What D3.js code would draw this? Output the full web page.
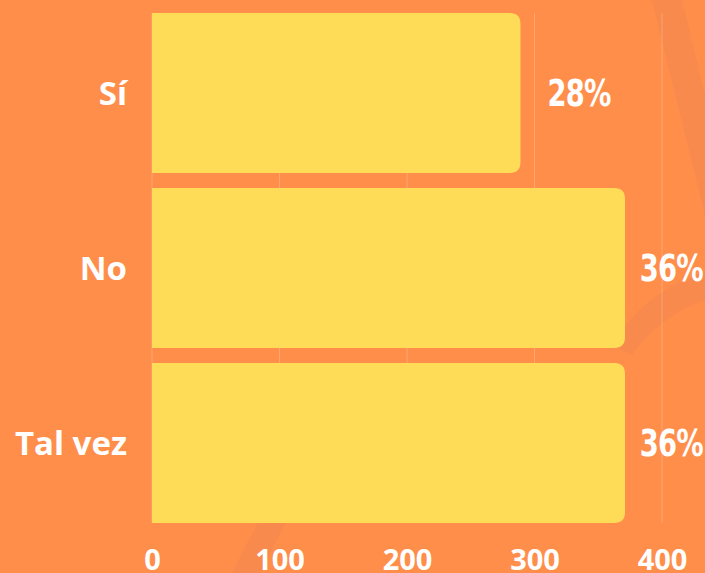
<!DOCTYPE html>
<html>
<head>
<meta charset="utf-8">
<script src="https://cdn.jsdelivr.net/npm/d3@7"></script>
<style>
  html, body { margin: 0; padding: 0; background: #ff8e4b; overflow: hidden; }
  svg { display: block; }
  .cat { font-family: 'Open Sans', sans-serif; font-weight: 700; font-size: 33px; fill: #fff; }
  .tick text { font-family: 'Open Sans', sans-serif; font-weight: 700; font-size: 29px; fill: #fff; }
  .pct { font-family: 'DejaVu Sans', sans-serif; font-weight: 700; font-size: 37px; fill: #fff; letter-spacing: -1px; }
</style>
</head>
<body>
<svg id="chart"></svg>
<script>
const categories = ['Sí', 'No', 'Tal vez']
const values = [289, 371, 371]
const percentLabels = ['28%', '36%', '36%']
const xTicks = [0, 100, 200, 300, 400]

const W = 705
const H = 573
const BG = '#ff8e4b'
const BAR = '#ffdc58'
const SQUEEZE = 0.74

const svg = d3.select('#chart').attr('width', W).attr('height', H)

svg.append('rect').attr('width', W).attr('height', H).attr('fill', BG)

// faint decoration in the background
const deco = svg.append('g').attr('fill', '#f6894c').attr('opacity', 0.9)
deco.append('path').attr('d', 'M652,0 L682,0 L705,95 L705,215 Z')
deco.append('path').attr('d', 'M612,345 C640,300 670,285 705,272 L705,300 C675,310 650,330 632,355 Z')
deco.append('path').attr('d', 'M258,522 L286,522 L260,573 L232,573 Z')

const x = d3.scaleLinear().domain([0, 400]).range([152, 662])
const y = d3.scaleBand().domain(categories).range([6, 530])
  .paddingInner(0.085).paddingOuter(0.04)

const plotTop = y(categories[0])
const plotBottom = y(categories[categories.length - 1]) + y.bandwidth()

// grid
svg.append('g').selectAll('line').data(xTicks).enter().append('line')
  .attr('x1', d => x(d)).attr('x2', d => x(d))
  .attr('y1', plotTop).attr('y2', plotBottom)
  .attr('stroke', '#ffffff').attr('stroke-opacity', 0.22).attr('stroke-width', 1)

// bars, rounded at the right end
function barPath (v, c) {
  const x0 = x(0)
  const x1 = x(v)
  const y0 = y(c)
  const h = y.bandwidth()
  const r = 11
  return `M${x0},${y0} H${x1 - r} Q${x1},${y0} ${x1},${y0 + r} V${y0 + h - r} Q${x1},${y0 + h} ${x1 - r},${y0 + h} H${x0} Z`
}
svg.append('g').selectAll('path').data(categories).enter().append('path')
  .attr('d', (c, i) => barPath(values[i], c))
  .attr('fill', BAR)

// category labels
svg.append('g').selectAll('text').data(categories).enter().append('text')
  .attr('class', 'cat')
  .attr('x', 127)
  .attr('y', c => y(c) + y.bandwidth() / 2)
  .attr('dy', '0.36em')
  .attr('text-anchor', 'end')
  .text(c => c)

// percent labels, condensed, pushed left if they would run off the edge
svg.append('g').selectAll('text').data(categories).enter().append('text')
  .attr('class', 'pct')
  .attr('dy', '0.34em')
  .text((c, i) => percentLabels[i])
  .each(function (c, i) {
    const w = this.getComputedTextLength() * SQUEEZE
    const lx = Math.min(x(values[i]) + 27, W - w - 2)
    const ly = y(c) + y.bandwidth() / 2
    d3.select(this).attr('transform', `translate(${lx},${ly}) scale(${SQUEEZE},1)`)
  })

// x axis
const axis = svg.append('g')
  .attr('class', 'axis')
  .attr('transform', `translate(0,${plotBottom})`)
  .call(d3.axisBottom(x).tickValues(xTicks).tickSize(0).tickPadding(26).tickFormat(d3.format('d')))
axis.select('.domain').remove()
axis.selectAll('.tick text').attr('dy', '0.71em')
</script>
</body>
</html>
